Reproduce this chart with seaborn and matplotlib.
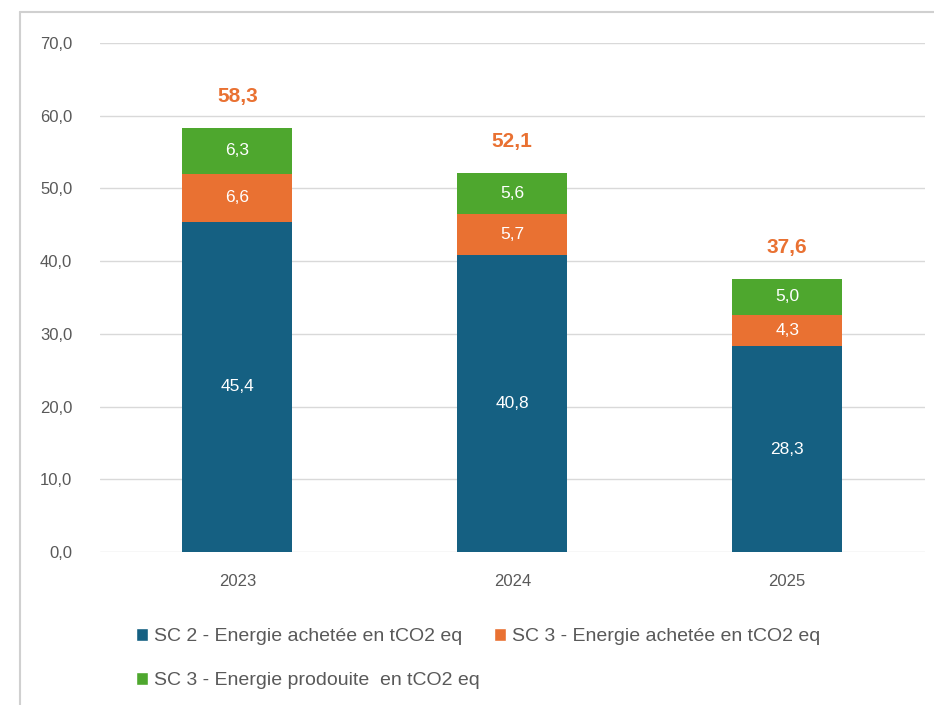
import pandas as pd
import numpy as np
import matplotlib.pyplot as plt
import seaborn as sns
from matplotlib.lines import Line2D
from matplotlib.patches import Patch

# Données
annees = ["2023", "2024", "2025"]
sc2_achetee = [45.4, 40.8, 28.3]
sc3_achetee = [6.6, 5.7, 4.3]
sc3_produite = [6.3, 5.6, 5.0]
totaux = [58.3, 52.1, 37.6]

series = [
    "SC 2 - Energie achetée en tCO2 eq",
    "SC 3 - Energie achetée en tCO2 eq",
    "SC 3 - Energie prodouite  en tCO2 eq",
]
couleurs = ["#156082", "#E97132", "#4EA72E"]

df = pd.DataFrame({
    "Annee": annees,
    series[0]: sc2_achetee,
    series[1]: sc3_achetee,
    series[2]: sc3_produite,
})

sns.set_theme(style="white")
plt.rcParams['font.family'] = ['Liberation Sans', 'DejaVu Sans']

fig = plt.figure(figsize=(9.34, 7.05), dpi=100)
ax = fig.add_axes([0.107, 0.217, 0.883, 0.722])

bas = np.zeros(len(annees))
for serie, couleur in zip(series, couleurs):
    sns.barplot(data=df, x="Annee", y=serie, color=couleur, width=0.4,
                bottom=bas, ax=ax, saturation=1, zorder=3, linewidth=0)
    for i, v in enumerate(df[serie]):
        ax.text(i, bas[i] + v / 2, f"{v:.1f}".replace(".", ","), ha="center",
                va="center", color="white", fontsize=12.5, zorder=4)
    bas = bas + df[serie].values

# Totaux
for i, t in enumerate(totaux):
    ax.text(i, t + 3.0, f"{t:.1f}".replace(".", ","), ha="center", va="bottom",
            color="#E97132", fontsize=15, fontweight="bold")

ax.set_ylim(0, 70)
ax.set_xlim(-0.5, 2.5)
ax.set_yticks(np.arange(0, 71, 10))
ax.set_yticklabels([f"{v:.1f}".replace(".", ",") for v in np.arange(0, 71, 10)])
ax.yaxis.grid(True, color="#d9d9d9", linewidth=1)
ax.set_axisbelow(True)
ax.set_xlabel("")
ax.set_ylabel("")
for s in ax.spines.values():
    s.set_visible(False)
ax.tick_params(axis="both", length=0, labelsize=12, labelcolor="#595959")
ax.tick_params(axis="y", pad=20)
ax.tick_params(axis="x", pad=16)

# Légende
handles = [Patch(facecolor=c) for c in couleurs]
ordre = [0, 2, 1]
fig.legend([handles[k] for k in ordre], [series[k] for k in ordre],
           loc="upper left", bbox_to_anchor=(0.137, 0.12), ncol=2,
           frameon=False, fontsize=14, labelcolor="#595959",
           handlelength=0.65, handleheight=0.65, handletextpad=0.3,
           columnspacing=0.7, labelspacing=1.37, borderaxespad=0)

# Cadre de la capture
fig.add_artist(Line2D([20 / 934, 20 / 934], [0, 1 - 12 / 705], color="#d0d0d0", lw=1.5))
fig.add_artist(Line2D([20 / 934, 1], [1 - 12 / 705, 1 - 12 / 705], color="#d0d0d0", lw=1.5))

fig.savefig("out.png", dpi=100)
